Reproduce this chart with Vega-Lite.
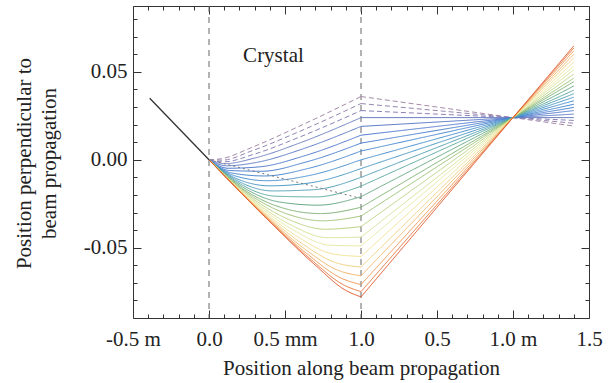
{
  "$schema": "https://vega.github.io/schema/vega-lite/v6.json",
  "autosize": {"type": "none"},
  "padding": {"left": 133, "top": 6, "right": 24, "bottom": 65},
  "width": 456,
  "height": 312,
  "background": "white",
  "config": {
    "view": {"stroke": "#333", "strokeWidth": 1},
    "axis": {"domain": false, "grid": false, "tickColor": "#333", "tickWidth": 1, "labelFont": "Liberation Serif", "labelFontSize": 21, "labelColor": "#222", "titleFont": "Liberation Serif", "titleFontSize": 21, "titleFontWeight": "normal", "titleColor": "#222", "labelFlush": false, "labelOverlap": false, "labelBound": false}
  },
  "datasets": {
    "rays": [
      {"r":0,"s":"a","x":0,"y":0},{"r":0,"s":"a","x":0.0813,"y":0.0006},{"r":0,"s":"a","x":0.275,"y":0.0068},{"r":0,"s":"a","x":0.5813,"y":0.0186},{"r":0,"s":"a","x":1,"y":0.036},{"r":0,"s":"b","x":1,"y":0.036},{"r":0,"s":"b","x":2.4,"y":0.0192},
      {"r":1,"s":"a","x":0,"y":0},{"r":1,"s":"a","x":0.0865,"y":-0.0002},{"r":1,"s":"a","x":0.282,"y":0.0051},{"r":1,"s":"a","x":0.5865,"y":0.0158},{"r":1,"s":"a","x":1,"y":0.032},{"r":1,"s":"b","x":1,"y":0.032},{"r":1,"s":"b","x":2.4,"y":0.0208},
      {"r":2,"s":"a","x":0,"y":0},{"r":2,"s":"a","x":0.0948,"y":-0.0012},{"r":2,"s":"a","x":0.293,"y":0.0031},{"r":2,"s":"a","x":0.5948,"y":0.0129},{"r":2,"s":"a","x":1,"y":0.028},{"r":2,"s":"b","x":1,"y":0.028},{"r":2,"s":"b","x":2.4,"y":0.0224},
      {"r":3,"s":"a","x":0,"y":0},{"r":3,"s":"a","x":0.1038,"y":-0.0022},{"r":3,"s":"a","x":0.305,"y":0.0011},{"r":3,"s":"a","x":0.6038,"y":0.0098},{"r":3,"s":"a","x":1,"y":0.024},{"r":3,"s":"b","x":1,"y":0.024},{"r":3,"s":"b","x":2.4,"y":0.024},
      {"r":4,"s":"a","x":0,"y":0},{"r":4,"s":"a","x":0.1139,"y":-0.0034},{"r":4,"s":"a","x":0.3185,"y":-0.0014},{"r":4,"s":"a","x":0.6139,"y":0.0061},{"r":4,"s":"a","x":1,"y":0.019},{"r":4,"s":"b","x":1,"y":0.019},{"r":4,"s":"b","x":2.4,"y":0.026},
      {"r":5,"s":"a","x":0,"y":0},{"r":5,"s":"a","x":0.1251,"y":-0.0048},{"r":5,"s":"a","x":0.3335,"y":-0.004},{"r":5,"s":"a","x":0.6251,"y":0.0022},{"r":5,"s":"a","x":1,"y":0.014},{"r":5,"s":"b","x":1,"y":0.014},{"r":5,"s":"b","x":2.4,"y":0.028},
      {"r":6,"s":"a","x":0,"y":0},{"r":6,"s":"a","x":0.1368,"y":-0.0061},{"r":6,"s":"a","x":0.349,"y":-0.0065},{"r":6,"s":"a","x":0.6368,"y":-0.0013},{"r":6,"s":"a","x":1,"y":0.0095},{"r":6,"s":"b","x":1,"y":0.0095},{"r":6,"s":"b","x":2.4,"y":0.0298},
      {"r":7,"s":"a","x":0,"y":0},{"r":7,"s":"a","x":0.1491,"y":-0.0075},{"r":7,"s":"a","x":0.3655,"y":-0.0092},{"r":7,"s":"a","x":0.6491,"y":-0.005},{"r":7,"s":"a","x":1,"y":0.005},{"r":7,"s":"b","x":1,"y":0.005},{"r":7,"s":"b","x":2.4,"y":0.0316},
      {"r":8,"s":"a","x":0,"y":0},{"r":8,"s":"a","x":0.1619,"y":-0.0089},{"r":8,"s":"a","x":0.3825,"y":-0.0119},{"r":8,"s":"a","x":0.6619,"y":-0.0089},{"r":8,"s":"a","x":1,"y":0},{"r":8,"s":"b","x":1,"y":0},{"r":8,"s":"b","x":2.4,"y":0.0336},
      {"r":9,"s":"a","x":0,"y":0},{"r":9,"s":"a","x":0.1754,"y":-0.0105},{"r":9,"s":"a","x":0.4005,"y":-0.0148},{"r":9,"s":"a","x":0.6754,"y":-0.013},{"r":9,"s":"a","x":1,"y":-0.005},{"r":9,"s":"b","x":1,"y":-0.005},{"r":9,"s":"b","x":2.4,"y":0.0356},
      {"r":10,"s":"a","x":0,"y":0},{"r":10,"s":"a","x":0.1893,"y":-0.012},{"r":10,"s":"a","x":0.419,"y":-0.0177},{"r":10,"s":"a","x":0.6893,"y":-0.017},{"r":10,"s":"a","x":1,"y":-0.01},{"r":10,"s":"b","x":1,"y":-0.01},{"r":10,"s":"b","x":2.4,"y":0.0376},
      {"r":11,"s":"a","x":0,"y":0},{"r":11,"s":"a","x":0.2035,"y":-0.0136},{"r":11,"s":"a","x":0.438,"y":-0.0207},{"r":11,"s":"a","x":0.7035,"y":-0.0211},{"r":11,"s":"a","x":1,"y":-0.015},{"r":11,"s":"b","x":1,"y":-0.015},{"r":11,"s":"b","x":2.4,"y":0.0396},
      {"r":12,"s":"a","x":0,"y":0},{"r":12,"s":"a","x":0.2181,"y":-0.0153},{"r":12,"s":"a","x":0.4575,"y":-0.0239},{"r":12,"s":"a","x":0.7181,"y":-0.0258},{"r":12,"s":"a","x":1,"y":-0.021},{"r":12,"s":"b","x":1,"y":-0.021},{"r":12,"s":"b","x":2.4,"y":0.042},
      {"r":13,"s":"a","x":0,"y":0},{"r":13,"s":"a","x":0.2331,"y":-0.0171},{"r":13,"s":"a","x":0.4775,"y":-0.0272},{"r":13,"s":"a","x":0.7331,"y":-0.0306},{"r":13,"s":"a","x":1,"y":-0.027},{"r":13,"s":"b","x":1,"y":-0.027},{"r":13,"s":"b","x":2.4,"y":0.0444},
      {"r":14,"s":"a","x":0,"y":0},{"r":14,"s":"a","x":0.2485,"y":-0.0187},{"r":14,"s":"a","x":0.498,"y":-0.0303},{"r":14,"s":"a","x":0.7485,"y":-0.0347},{"r":14,"s":"a","x":1,"y":-0.032},{"r":14,"s":"b","x":1,"y":-0.032},{"r":14,"s":"b","x":2.4,"y":0.0464},
      {"r":15,"s":"a","x":0,"y":0},{"r":15,"s":"a","x":0.2643,"y":-0.0205},{"r":15,"s":"a","x":0.519,"y":-0.0337},{"r":15,"s":"a","x":0.7643,"y":-0.0395},{"r":15,"s":"a","x":1,"y":-0.038},{"r":15,"s":"b","x":1,"y":-0.038},{"r":15,"s":"b","x":2.4,"y":0.0488},
      {"r":16,"s":"a","x":0,"y":0},{"r":16,"s":"a","x":0.28,"y":-0.0223},{"r":16,"s":"a","x":0.54,"y":-0.0371},{"r":16,"s":"a","x":0.78,"y":-0.0443},{"r":16,"s":"a","x":1,"y":-0.044},{"r":16,"s":"b","x":1,"y":-0.044},{"r":16,"s":"b","x":2.4,"y":0.0512},
      {"r":17,"s":"a","x":0,"y":0},{"r":17,"s":"a","x":0.2965,"y":-0.0241},{"r":17,"s":"a","x":0.562,"y":-0.0403},{"r":17,"s":"a","x":0.7965,"y":-0.0486},{"r":17,"s":"a","x":1,"y":-0.049},{"r":17,"s":"b","x":1,"y":-0.049},{"r":17,"s":"b","x":2.4,"y":0.0532},
      {"r":18,"s":"a","x":0,"y":0},{"r":18,"s":"a","x":0.313,"y":-0.026},{"r":18,"s":"a","x":0.584,"y":-0.0438},{"r":18,"s":"a","x":0.813,"y":-0.0535},{"r":18,"s":"a","x":1,"y":-0.055},{"r":18,"s":"b","x":1,"y":-0.055},{"r":18,"s":"b","x":2.4,"y":0.0556},
      {"r":19,"s":"a","x":0,"y":0},{"r":19,"s":"a","x":0.3299,"y":-0.0279},{"r":19,"s":"a","x":0.6065,"y":-0.0473},{"r":19,"s":"a","x":0.8299,"y":-0.0584},{"r":19,"s":"a","x":1,"y":-0.061},{"r":19,"s":"b","x":1,"y":-0.061},{"r":19,"s":"b","x":2.4,"y":0.058},
      {"r":20,"s":"a","x":0,"y":0},{"r":20,"s":"a","x":0.3471,"y":-0.0298},{"r":20,"s":"a","x":0.6295,"y":-0.0507},{"r":20,"s":"a","x":0.8471,"y":-0.0628},{"r":20,"s":"a","x":1,"y":-0.066},{"r":20,"s":"b","x":1,"y":-0.066},{"r":20,"s":"b","x":2.4,"y":0.06},
      {"r":21,"s":"a","x":0,"y":0},{"r":21,"s":"a","x":0.3644,"y":-0.0316},{"r":21,"s":"a","x":0.6525,"y":-0.054},{"r":21,"s":"a","x":0.8644,"y":-0.0671},{"r":21,"s":"a","x":1,"y":-0.071},{"r":21,"s":"b","x":1,"y":-0.071},{"r":21,"s":"b","x":2.4,"y":0.062},
      {"r":22,"s":"a","x":0,"y":0},{"r":22,"s":"a","x":0.382,"y":-0.0335},{"r":22,"s":"a","x":0.676,"y":-0.0571},{"r":22,"s":"a","x":0.882,"y":-0.071},{"r":22,"s":"a","x":1,"y":-0.075},{"r":22,"s":"b","x":1,"y":-0.075},{"r":22,"s":"b","x":2.4,"y":0.0636},
      {"r":23,"s":"a","x":0,"y":0},{"r":23,"s":"a","x":0.4,"y":-0.0353},{"r":23,"s":"a","x":0.7,"y":-0.06},{"r":23,"s":"a","x":0.9,"y":-0.0743},{"r":23,"s":"a","x":1,"y":-0.078},{"r":23,"s":"b","x":1,"y":-0.078},{"r":23,"s":"b","x":2.4,"y":0.0648}
    ],
    "inc": [{"x": -0.39, "y": 0.035}, {"x": 0, "y": 0}],
    "dot": [{"x": 0, "y": 0}, {"x": 1, "y": -0.022}],
    "lab": [{"x": 0.424, "y": 0.0557, "t": "Crystal"}],
    "edges": [{"x": 0}, {"x": 1}]
  },
  "resolve": {"axis": {"x": "independent", "y": "independent"}},
  "layer": [
    {
      "data": {"name": "edges"},
      "mark": {"type": "rule", "color": "#666", "strokeWidth": 1, "strokeDash": [6, 5]},
      "encoding": {
        "x": {"field": "x", "type": "quantitative", "scale": {"domain": [-0.5, 2.5], "nice": false, "zero": false}, "axis": null}
      }
    },
    {
      "data": {"name": "rays"},
      "mark": {"type": "line", "interpolate": "monotone", "strokeWidth": 1},
      "encoding": {
        "x": {"field": "x", "type": "quantitative", "scale": {"domain": [-0.5, 2.5], "nice": false, "zero": false},
          "axis": {"orient": "bottom", "values": [-0.5, 0, 0.5, 1, 1.5, 2, 2.5], "tickSize": -8, "labelPadding": 18,
            "labelExpr": "datum.value == -0.5 ? '-0.5 m' : datum.value == 0 ? '0.0' : datum.value == 0.5 ? '0.5 mm' : datum.value == 1 ? '1.0' : datum.value == 1.5 ? '0.5' : datum.value == 2 ? '1.0 m' : '1.5'",
            "title": "Position along beam propagation", "titleX": 228, "titleY": 56, "titleBaseline": "alphabetic", "titleAlign": "center"}},
        "y": {"field": "y", "type": "quantitative", "scale": {"domain": [-0.09, 0.0875], "nice": false, "zero": false},
          "axis": {"orient": "left", "values": [-0.05, 0, 0.05], "tickSize": -8, "labelPadding": 14, "labelBaseline": "middle",
            "labelExpr": "datum.value == 0 ? '0.00' : datum.value > 0 ? '0.05' : '-0.05'",
            "title": ["Position perpendicular to", "beam propagation"], "titleX": -109, "titleY": 157, "titleBaseline": "middle", "titleAlign": "center", "titleAngle": 270, "titleLineHeight": 25}},
        "color": {"field": "r", "type": "ordinal", "legend": null,
          "scale": {"domain": [0,1,2,3,4,5,6,7,8,9,10,11,12,13,14,15,16,17,18,19,20,21,22,23],
            "range": ["#a58aa8","#9686b0","#8a84b8","#6f7fc2","#5b7ac8","#4f79cf","#4a80d0","#4888d0","#4890cf","#4a98c6","#50a0b6","#5aa8a0","#66aa84","#7cb272","#9cc274","#bcd384","#d4e294","#e8eaa4","#f1e294","#f2d07e","#f2b668","#f09650","#e8743a","#e05426"]}},
        "detail": {"field": "s"},
        "strokeDash": {"condition": {"test": "datum.r < 3", "value": [5, 3]}, "value": [1, 0]}
      }
    },
    {
      "data": {"name": "inc"},
      "mark": {"type": "line", "color": "#333", "strokeWidth": 1.3},
      "encoding": {
        "x": {"field": "x", "type": "quantitative", "scale": {"domain": [-0.5, 2.5], "nice": false, "zero": false},
          "axis": {"orient": "top", "values": [-0.5, 0, 0.5, 1, 1.5, 2, 2.5], "tickSize": -8, "labels": false, "title": null}},
        "y": {"field": "y", "type": "quantitative", "scale": {"domain": [-0.09, 0.0875], "nice": false, "zero": false},
          "axis": {"orient": "right", "values": [-0.05, 0, 0.05], "tickSize": -8, "labels": false, "title": null}}
      }
    },
    {
      "data": {"name": "dot"},
      "mark": {"type": "line", "color": "#777", "strokeWidth": 1, "strokeDash": [2, 3]},
      "encoding": {
        "x": {"field": "x", "type": "quantitative", "scale": {"domain": [-0.5, 2.5], "nice": false, "zero": false},
          "axis": {"orient": "bottom", "values": [-0.4,-0.3,-0.2,-0.1,0.1,0.2,0.3,0.4,0.6,0.7,0.8,0.9,1.1,1.2,1.3,1.4,1.6,1.7,1.8,1.9,2.1,2.2,2.3,2.4], "tickSize": -4, "labels": false, "title": null}},
        "y": {"field": "y", "type": "quantitative", "scale": {"domain": [-0.09, 0.0875], "nice": false, "zero": false},
          "axis": {"orient": "left", "values": [-0.08,-0.07,-0.06,-0.04,-0.03,-0.02,-0.01,0.01,0.02,0.03,0.04,0.06,0.07,0.08], "tickSize": -4, "labels": false, "title": null}}
      }
    },
    {
      "data": {"name": "lab"},
      "mark": {"type": "text", "font": "Liberation Serif", "fontSize": 21, "color": "#222", "align": "center", "baseline": "alphabetic"},
      "encoding": {
        "x": {"field": "x", "type": "quantitative", "scale": {"domain": [-0.5, 2.5], "nice": false, "zero": false},
          "axis": {"orient": "top", "values": [-0.4,-0.3,-0.2,-0.1,0.1,0.2,0.3,0.4,0.6,0.7,0.8,0.9,1.1,1.2,1.3,1.4,1.6,1.7,1.8,1.9,2.1,2.2,2.3,2.4], "tickSize": -4, "labels": false, "title": null}},
        "y": {"field": "y", "type": "quantitative", "scale": {"domain": [-0.09, 0.0875], "nice": false, "zero": false},
          "axis": {"orient": "right", "values": [-0.08,-0.07,-0.06,-0.04,-0.03,-0.02,-0.01,0.01,0.02,0.03,0.04,0.06,0.07,0.08], "tickSize": -4, "labels": false, "title": null}},
        "text": {"field": "t"}
      }
    }
  ]
}
